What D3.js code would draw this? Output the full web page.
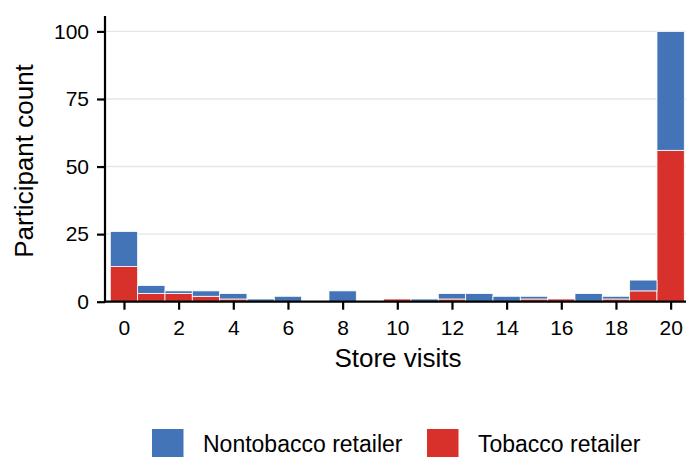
<!DOCTYPE html>
<html>
<head>
<meta charset="utf-8">
<script src="https://cdn.jsdelivr.net/npm/d3@7"></script>
<style>
  html, body { margin: 0; padding: 0; background: #fff; }
  svg { display: block; font-family: "Liberation Sans", Arial, Helvetica, sans-serif; }
</style>
</head>
<body>
<svg id="chart" width="686" height="457"></svg>
<script>
// ---- data ----
const visits = [0,1,2,3,4,5,6,7,8,9,10,11,12,13,14,15,16,17,18,19,20];
const tobacco    = [13,3,3,2,1,0,0,0,0,0,1,0,1,0,0,1,1,0,1,4,56];
const nontobacco = [13,3,1,2,2,1,2,0,4,0,0,1,2,3,2,1,0,3,1,4,44];
const seriesNames = ["Tobacco retailer", "Nontobacco retailer"];
const seriesColors = ["#D8302A", "#4474B8"];
const yTicks = [0, 25, 50, 75, 100];
const xTicks = [0,2,4,6,8,10,12,14,16,18,20];
const xTitle = "Store visits";
const yTitle = "Participant count";
const legendOrder = ["Nontobacco retailer", "Tobacco retailer"];

// ---- build ----
const rows = visits.map((v, i) => ({ v, "Tobacco retailer": tobacco[i], "Nontobacco retailer": nontobacco[i] }));
const stacked = d3.stack().keys(seriesNames)(rows);
const color = d3.scaleOrdinal().domain(seriesNames).range(seriesColors);

const svg = d3.select("#chart");
const panel = { left: 105, right: 686, top: 16, bottom: 301.7 };

const x = d3.scaleLinear().domain([-0.5, 20.5]).range([110.3, 684.3]);
const y = d3.scaleLinear().domain([0, 105.7]).range([panel.bottom, panel.top]);
const bw = x(1) - x(0);

// gridlines
svg.append("g").selectAll("line")
  .data(yTicks.filter(d => d > 0))
  .join("line")
  .attr("x1", panel.left).attr("x2", panel.right)
  .attr("y1", d => y(d)).attr("y2", d => y(d))
  .attr("stroke", "#e6e6e6").attr("stroke-width", 1.4);

// bars
svg.append("g").selectAll("g")
  .data(stacked)
  .join("g")
  .attr("fill", d => color(d.key))
  .selectAll("rect")
  .data(d => d)
  .join("rect")
  .attr("x", d => x(d.data.v) - bw / 2)
  .attr("width", bw)
  .attr("y", d => y(d[1]))
  .attr("height", d => y(d[0]) - y(d[1]))
  .attr("stroke", "#fff")
  .attr("stroke-width", 0.8)
  .style("display", d => (d[1] - d[0]) > 0 ? null : "none");

// y axis
const yAxis = svg.append("g")
  .attr("transform", `translate(${panel.left},0)`)
  .call(d3.axisLeft(y).tickValues(yTicks).tickSize(8).tickPadding(8).tickSizeOuter(0));
yAxis.select(".domain").attr("stroke", "#000").attr("stroke-width", 2.2)
  .attr("d", `M0,${panel.top}V${panel.bottom + 1}`);
yAxis.selectAll(".tick line").attr("stroke", "#000").attr("stroke-width", 2.2);
yAxis.selectAll(".tick text").attr("fill", "#000").style("font-size", "21px")
  .style("font-family", "'Liberation Sans', Arial, Helvetica, sans-serif");

// x axis
const xAxis = svg.append("g")
  .attr("transform", `translate(0,${panel.bottom})`)
  .call(d3.axisBottom(x).tickValues(xTicks).tickSize(8).tickSizeOuter(0));
xAxis.select(".domain").attr("stroke", "#000").attr("stroke-width", 2.2)
  .attr("d", `M${panel.left - 1},0H${panel.right}`);
xAxis.selectAll(".tick line").attr("stroke", "#000").attr("stroke-width", 2.2);
xAxis.selectAll(".tick text").attr("fill", "#000").style("font-size", "21px")
  .style("font-family", "'Liberation Sans', Arial, Helvetica, sans-serif")
  .attr("y", 33.5).attr("dy", null);

// axis titles
svg.append("text")
  .attr("x", 398).attr("y", 367)
  .attr("text-anchor", "middle")
  .style("font-size", "26px")
  .text(xTitle);

svg.append("text")
  .attr("transform", "translate(33,161) rotate(-90)")
  .attr("text-anchor", "middle")
  .style("font-size", "26px")
  .text(yTitle);

// legend
const legendX = [152, 427];
const legend = svg.append("g");
legendOrder.forEach((name, i) => {
  legend.append("rect")
    .attr("x", legendX[i]).attr("y", 429)
    .attr("width", 31.5).attr("height", 31.5)
    .attr("fill", color(name));
  legend.append("text")
    .attr("x", legendX[i] + 51).attr("y", 452)
    .style("font-size", "23px")
    .text(name);
});
</script>
</body>
</html>
